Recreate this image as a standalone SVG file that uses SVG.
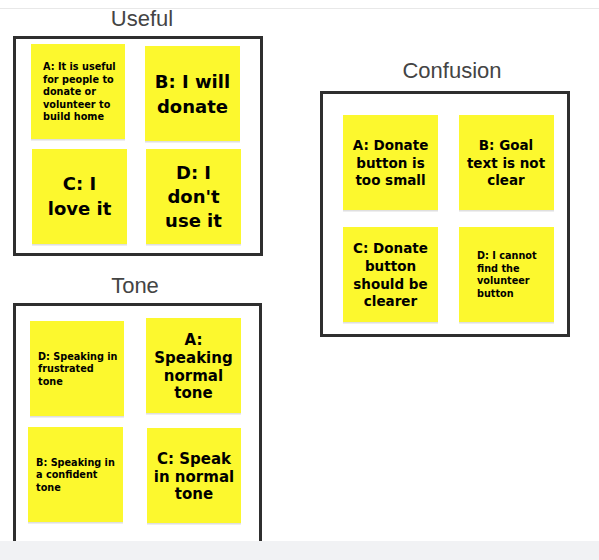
<svg xmlns="http://www.w3.org/2000/svg" width="599" height="560" viewBox="0 0 599 560">
<defs>
<style>
.frame{fill:#fff;stroke:#2f2f2f;stroke-width:3}
.title{font-family:"Liberation Sans",Arial,sans-serif;font-size:22px;fill:#444;text-anchor:middle}
.note{fill:#fcf82e}
.shadow{fill:#c9c9c9;opacity:0.6}
.t{font-family:"DejaVu Sans","Liberation Sans",sans-serif;font-weight:bold;fill:#000}
.c{text-anchor:middle}
.s{font-size:9.7px}
.m{font-size:13.5px}
.l{font-size:18px}
</style>
</defs>
<rect x="0" y="0" width="599" height="560" fill="#fff"/>
<line x1="0" y1="8.5" x2="599" y2="8.5" stroke="#e8e8e8" stroke-width="1"/>

<g id="useful">
<text class="title" x="142" y="26">Useful</text>
<rect class="frame" x="14.5" y="37.5" width="247" height="217"/>
<g id="useful-a">
<rect class="shadow" x="31" y="45.5" width="94" height="95"/>
<rect class="note" x="31" y="44" width="94" height="95"/>
<text class="t s" x="43"><tspan x="43" y="70">A: It is useful</tspan><tspan x="43" y="82.5">for people to</tspan><tspan x="43" y="95">donate or</tspan><tspan x="43" y="107.5">volunteer to</tspan><tspan x="43" y="120">build home</tspan></text>
</g>
<g id="useful-b">
<rect class="shadow" x="145" y="47.5" width="95" height="95"/>
<rect class="note" x="145" y="46" width="95" height="95"/>
<text class="t l c"><tspan x="192.5" y="87.5">B: I will</tspan><tspan x="192.5" y="112.5">donate</tspan></text>
</g>
<g id="useful-c">
<rect class="shadow" x="32" y="150.5" width="95" height="95"/>
<rect class="note" x="32" y="149" width="95" height="95"/>
<text class="t l c"><tspan x="79.5" y="189.5">C: I</tspan><tspan x="79.5" y="214.5">love it</tspan></text>
</g>
<g id="useful-d">
<rect class="shadow" x="146" y="150.5" width="95" height="95"/>
<rect class="note" x="146" y="149" width="95" height="95"/>
<text class="t l c"><tspan x="193.5" y="178.5">D: I</tspan><tspan x="193.5" y="203">don't</tspan><tspan x="193.5" y="227">use it</tspan></text>
</g>
</g>

<g id="confusion">
<text class="title" x="452" y="78">Confusion</text>
<rect class="frame" x="321.5" y="92.5" width="247" height="243"/>
<g id="confusion-a">
<rect class="shadow" x="343" y="116.5" width="95" height="95"/>
<rect class="note" x="343" y="115" width="95" height="95"/>
<text class="t m c"><tspan x="390.5" y="150">A: Donate</tspan><tspan x="390.5" y="168">button is</tspan><tspan x="390.5" y="185">too small</tspan></text>
</g>
<g id="confusion-b">
<rect class="shadow" x="459" y="116.5" width="95" height="95"/>
<rect class="note" x="459" y="115" width="95" height="95"/>
<text class="t m c"><tspan x="506" y="150">B: Goal</tspan><tspan x="506" y="168">text is not</tspan><tspan x="506" y="185">clear</tspan></text>
</g>
<g id="confusion-c">
<rect class="shadow" x="343" y="228.5" width="95" height="95"/>
<rect class="note" x="343" y="227" width="95" height="95"/>
<text class="t m c"><tspan x="390.5" y="253">C: Donate</tspan><tspan x="390.5" y="271">button</tspan><tspan x="390.5" y="288.5">should be</tspan><tspan x="390.5" y="305.5">clearer</tspan></text>
</g>
<g id="confusion-d">
<rect class="shadow" x="459" y="228.5" width="95" height="95"/>
<rect class="note" x="459" y="227" width="95" height="95"/>
<text class="t s"><tspan x="477" y="258.5">D: I cannot</tspan><tspan x="477" y="271.5">find the</tspan><tspan x="477" y="284">volunteer</tspan><tspan x="477" y="296.5">button</tspan></text>
</g>
</g>

<g id="tone">
<text class="title" x="135" y="293">Tone</text>
<rect class="frame" x="14.5" y="304.5" width="246" height="260"/>
<g id="tone-d">
<rect class="shadow" x="30" y="322.5" width="94" height="95"/>
<rect class="note" x="30" y="321" width="94" height="95"/>
<text class="t s"><tspan x="38" y="359.5">D: Speaking in</tspan><tspan x="38" y="372">frustrated</tspan><tspan x="38" y="384.5">tone</tspan></text>
</g>
<g id="tone-a">
<rect class="shadow" x="146" y="319.5" width="95" height="95"/>
<rect class="note" x="146" y="318" width="95" height="95"/>
<text class="t c" style="font-size:15px"><tspan x="193.5" y="344.5">A:</tspan><tspan x="193.5" y="362.5">Speaking</tspan><tspan x="193.5" y="380.5">normal</tspan><tspan x="193.5" y="397.5">tone</tspan></text>
</g>
<g id="tone-b">
<rect class="shadow" x="28" y="428.5" width="95" height="95"/>
<rect class="note" x="28" y="427" width="95" height="95"/>
<text class="t s"><tspan x="36" y="465.5">B: Speaking in</tspan><tspan x="36" y="478">a confident</tspan><tspan x="36" y="490.5">tone</tspan></text>
</g>
<g id="tone-c">
<rect class="shadow" x="147" y="429.5" width="94" height="95"/>
<rect class="note" x="147" y="428" width="94" height="95"/>
<text class="t c" style="font-size:15px"><tspan x="194" y="463.5">C: Speak</tspan><tspan x="194" y="481.5">in normal</tspan><tspan x="194" y="498.5">tone</tspan></text>
</g>
</g>

<rect x="0" y="541" width="599" height="19" fill="#f1f2f4"/>
</svg>
